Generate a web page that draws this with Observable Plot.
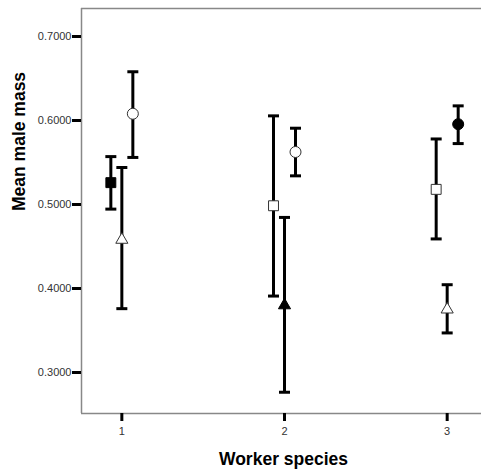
<!DOCTYPE html>
<html>
<head>
<meta charset="utf-8">
<script src="https://cdn.jsdelivr.net/npm/d3@7"></script>
<script src="https://cdn.jsdelivr.net/npm/@observablehq/plot@0.6"></script>
<style>
  html, body { margin: 0; padding: 0; background: #fff; }
  svg { display: block; }
</style>
</head>
<body>
<div id="chart"></div>
<script>
// Worker species (x categories)
const workerSpecies = [1, 2, 3];
// y tick labels
const yTicks = [0.3, 0.4, 0.5, 0.6, 0.7];
// Axis titles
const yTitle = "Mean male mass";
const xTitle = "Worker species";

// Series A (square markers): mean and error bar bounds for worker species 1,2,3
const meanA = [0.526, 0.4985, 0.518];
const lowA  = [0.4945, 0.391, 0.459];
const highA = [0.557, 0.6055, 0.578];
// Series B (triangle markers)
const meanB = [0.458, 0.380, 0.375];
const lowB  = [0.376, 0.2765, 0.3471];
const highB = [0.544, 0.4846, 0.4045];
// Series C (circle markers)
const meanC = [0.608, 0.5625, 0.5956];
const lowC  = [0.556, 0.5341, 0.5725];
const highC = [0.658, 0.5908, 0.6174];

const series = [
  {mean: meanA, low: lowA, high: highA},
  {mean: meanB, low: lowB, high: highB},
  {mean: meanC, low: lowC, high: highC}
];
const symbols = ["square", "triangle", "circle"];
const radii = [5.6, 4.5, 5.5];
const dodge = [-11, 0, 11];

const xDomain = [0.752, 3.211];
const yDomain = [0.2512, 0.7333];

const capSymbol = {
  draw(context) {
    context.moveTo(-5.5, 0);
    context.lineTo(5.5, 0);
  }
};

const marks = [
  Plot.ruleX([xDomain[0]], {stroke: "#888", strokeWidth: 1.5}),
  Plot.ruleY(yDomain, {stroke: "#888", strokeWidth: 1.5}),
  Plot.axisY({ticks: yTicks, tickFormat: d3.format(".4f"), tickSize: 9, tickPadding: 1,
              stroke: "black", strokeWidth: 3, fill: "#333", fontSize: 11, label: null}),
  Plot.axisX({ticks: workerSpecies, tickFormat: d3.format("d"), tickSize: 8, tickPadding: 6,
              stroke: "black", strokeWidth: 3, fill: "#333", fontSize: 11, label: null})
];

series.forEach((s, i) => {
  const rows = workerSpecies.map((w, j) => ({
    species: w, mean: s.mean[j], low: s.low[j], high: s.high[j], filled: w === i + 1
  }));
  marks.push(
    Plot.ruleX(rows, {x: "species", y1: "low", y2: "high", dx: dodge[i], stroke: "black", strokeWidth: 3}),
    Plot.dot(rows, {x: "species", y: "low", dx: dodge[i], symbol: capSymbol, stroke: "black", strokeWidth: 3}),
    Plot.dot(rows, {x: "species", y: "high", dx: dodge[i], symbol: capSymbol, stroke: "black", strokeWidth: 3}),
    Plot.dot(rows, {x: "species", y: "mean", dx: dodge[i], symbol: symbols[i], r: radii[i],
      fill: d => d.filled ? "black" : "white", stroke: d => d.filled ? "black" : "#333", strokeWidth: 1})
  );
});

marks.push(
  Plot.text([yTitle], {text: d => d, frameAnchor: "left", dx: -62, rotate: -90,
    fontSize: 17.5, fontWeight: "bold", fill: "black"}),
  Plot.text([xTitle], {text: d => d, frameAnchor: "bottom", dx: 2, dy: 51,
    fontSize: 17.5, fontWeight: "bold", fill: "black"})
);

const chart = Plot.plot({
  width: 481,
  height: 473,
  marginLeft: 81,
  marginRight: 0,
  marginTop: 8,
  marginBottom: 60,
  style: {fontFamily: "'Liberation Sans', Arial, sans-serif", background: "white", color: "#333"},
  x: {domain: xDomain, label: null},
  y: {domain: yDomain, label: null},
  marks
});
document.getElementById("chart").appendChild(chart);
</script>
</body>
</html>
